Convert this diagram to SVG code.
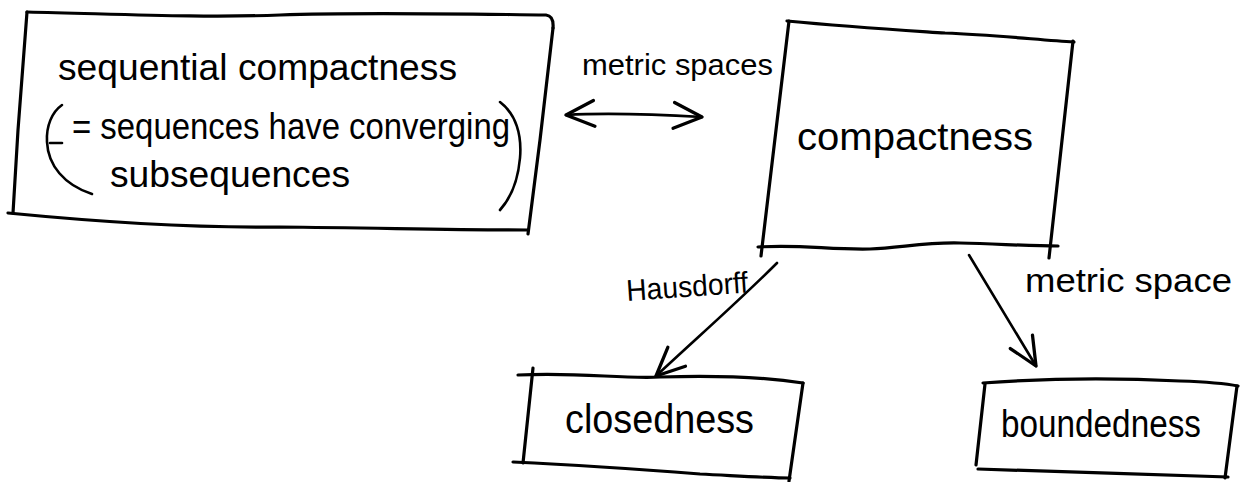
<svg xmlns="http://www.w3.org/2000/svg" width="1249" height="482" viewBox="0 0 1249 482">
  <style>
    .ink { fill: none; stroke: #000; stroke-width: 3.2; stroke-linecap: round; stroke-linejoin: round; }
    .wire { fill: none; stroke: #000; stroke-width: 2.6; stroke-linecap: round; stroke-linejoin: round; }
    .hand { font-family: "Liberation Sans", Arial, sans-serif; fill: #000; }
  </style>
  <defs>
    <marker id="head" markerUnits="userSpaceOnUse" markerWidth="40" markerHeight="40" viewBox="-30 -15 34 30" refX="0" refY="0" orient="auto-start-reverse">
      <path d="M -24 -11 L 0 0 L -24 11" fill="none" stroke="#000" stroke-width="2.8" stroke-linecap="round" stroke-linejoin="round"/>
    </marker>
  </defs>
  <rect width="1249" height="482" fill="#fff"/>

  <!-- sequential compactness -->
  <g id="node-sequential">
    <path class="ink" d="M27,12 C120,14 200,18 280,15 C360,12 460,14 546,15 Q554,16 553,28"/>
    <path class="ink" d="M553,28 L540,140 L528,234"/>
    <path class="ink" d="M8,213 C100,222 200,228 280,227 C380,228 460,230 528,230"/>
    <path class="ink" d="M27,12 L18,130 L13,213"/>
    <text class="hand" x="58" y="80" font-size="36" textLength="399" lengthAdjust="spacingAndGlyphs">sequential compactness</text>
    <text class="hand" x="72" y="139" font-size="36" textLength="438" lengthAdjust="spacingAndGlyphs">= sequences have converging</text>
    <text class="hand" x="110" y="187" font-size="36" textLength="240" lengthAdjust="spacingAndGlyphs">subsequences</text>
    <path class="wire" d="M62,105 C52,112 46,126 47,142 C48,165 64,185 92,194"/>
    <path class="wire" d="M50,143 L62,143"/>
    <path class="wire" d="M500,102 C516,114 522,135 520,158 C518,180 511,198 500,210"/>
  </g>

  <!-- compactness -->
  <g id="node-compactness">
    <path class="ink" d="M787,21 C850,27 900,30 945,33 C995,35 1040,40 1074,42"/>
    <path class="ink" d="M789,21 L761,256"/>
    <path class="ink" d="M1073,41 L1049,258"/>
    <path class="ink" d="M758,247 C800,244 830,250 870,249 C900,248 925,242 960,243 C1000,244 1030,246 1058,246"/>
    <text class="hand" x="797" y="150" font-size="38" textLength="236" lengthAdjust="spacingAndGlyphs">compactness</text>
  </g>

  <!-- closedness -->
  <g id="node-closedness">
    <path class="ink" d="M518,375 C580,372 620,379 660,377 C720,375 770,378 803,383"/>
    <path class="ink" d="M803,383 L789,481"/>
    <path class="ink" d="M533,368 L523,463"/>
    <path class="ink" d="M513,462 C580,465 650,470 700,474 C740,476 770,478 790,478"/>
    <text class="hand" x="565" y="433" font-size="40" textLength="189" lengthAdjust="spacingAndGlyphs">closedness</text>
  </g>

  <!-- boundedness -->
  <g id="node-boundedness">
    <path class="ink" d="M983,383 C1050,378 1120,378 1180,381 C1210,382 1228,384 1238,386"/>
    <path class="ink" d="M1237,386 L1225,478"/>
    <path class="ink" d="M985,384 L976,465"/>
    <path class="ink" d="M978,469 C1050,472 1150,474 1228,477"/>
    <text class="hand" x="1001" y="437" font-size="38" textLength="200" lengthAdjust="spacingAndGlyphs">boundedness</text>
  </g>

  <!-- connectors and their labels -->
  <g id="connectors">
    <path class="wire" d="M566,115 C600,113 650,114 702,117" marker-start="url(#head)" marker-end="url(#head)"/>
    <text class="hand" x="582" y="75" font-size="30" textLength="191" lengthAdjust="spacingAndGlyphs">metric spaces</text>

    <path class="wire" d="M777,263 C740,300 700,335 656,376" marker-end="url(#head)"/>
    <text class="hand" x="627" y="301" font-size="30" textLength="122" lengthAdjust="spacingAndGlyphs" transform="rotate(-4 627 301)">Hausdorff</text>

    <path class="wire" d="M969,255 L1036,366" marker-end="url(#head)"/>
    <text class="hand" x="1025" y="292" font-size="34" textLength="207" lengthAdjust="spacingAndGlyphs">metric space</text>
  </g>
</svg>
